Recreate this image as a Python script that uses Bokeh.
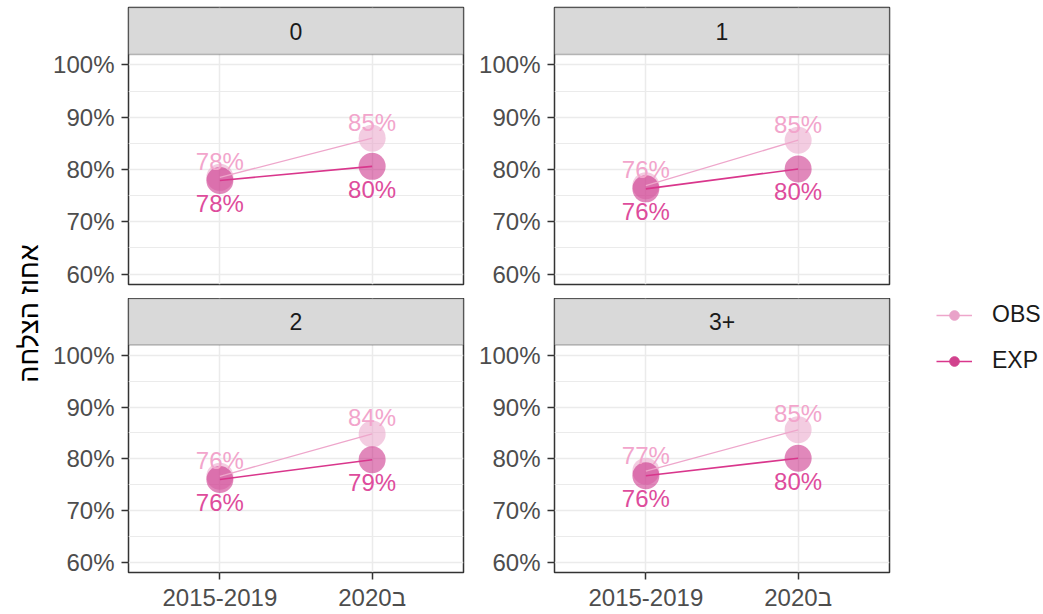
import math
from bokeh.plotting import figure
from bokeh.models import (ColumnDataSource, FactorRange, Range1d, FixedTicker,
                          NumeralTickFormatter, BoxAnnotation, Label, Legend, LegendItem)
from bokeh.layouts import row, column
from bokeh.embed import file_html
from bokeh.resources import INLINE
from bokeh.core.properties import value

# ---------------- data ----------------
periods = ["2015-2019", "2020ב"]
panels = ["0", "1", "2", "3+"]
series = ["OBS", "EXP"]

obs_2015 = [0.785, 0.769, 0.766, 0.776]
obs_2020 = [0.860, 0.856, 0.848, 0.856]
exp_2015 = [0.779, 0.763, 0.760, 0.767]
exp_2020 = [0.806, 0.801, 0.798, 0.801]

obs_2015_labels = ["78%", "76%", "76%", "77%"]
obs_2020_labels = ["85%", "85%", "84%", "85%"]
exp_2015_labels = ["78%", "76%", "76%", "76%"]
exp_2020_labels = ["80%", "80%", "79%", "80%"]

y_ticks = [0.6, 0.7, 0.8, 0.9, 1.0]
y_minor = [0.65, 0.75, 0.85, 0.95]
y_title = "אחוז הצלחה"

# ---------------- style ----------------
FONT = "Liberation Sans"
OBS_COL = "#e9a3c9"
EXP_COL = "#c51b7d"
OBS_LINE = "#eea6cb"
EXP_LINE = "#d9368c"
OBS_TEXT = "#f2a5cc"
EXP_TEXT = "#de4c9c"
GRID = "#ebebeb"
DARK = "#333333"

Y0, Y1 = 0.58, 1.02
PANEL_PX, STRIP_PX = 230, 47
FRAME_H = PANEL_PX + STRIP_PX
Y_TOP = Y1 + (Y1 - Y0) * STRIP_PX / PANEL_PX
FRAME_W = 335
TOP_PAD = 7
ROW_GAP = 14
X_AXIS_PX = 38
TOTAL_H = TOP_PAD + FRAME_H + ROW_GAP + FRAME_H + X_AXIS_PX


def make_panel(i, show_x, border_left, border_right):
    border_top = 0 if show_x else TOP_PAD
    border_bottom = X_AXIS_PX if show_x else ROW_GAP
    p = figure(
        width=border_left + FRAME_W + border_right,
        height=border_top + FRAME_H + border_bottom,
        x_range=FactorRange(factors=periods, range_padding=0.1, range_padding_units="percent"),
        y_range=Range1d(Y0, Y_TOP),
        toolbar_location=None, output_backend="svg",
        min_border_left=border_left, min_border_right=border_right,
        min_border_top=border_top, min_border_bottom=border_bottom,
        x_axis_location="below" if show_x else None,
    )
    p.background_fill_color = "white"
    p.outline_line_color = DARK
    p.outline_line_width = 1.5

    p.xgrid.grid_line_color = GRID
    p.xgrid.grid_line_width = 1.5
    p.ygrid.grid_line_color = GRID
    p.ygrid.grid_line_width = 1.5
    p.ygrid.minor_grid_line_color = GRID
    p.ygrid.minor_grid_line_width = 1.2

    p.yaxis.ticker = FixedTicker(ticks=y_ticks, minor_ticks=y_minor)
    p.yaxis.formatter = NumeralTickFormatter(format="0%")
    for ax in p.axis:
        ax.axis_line_color = None
        ax.major_tick_line_color = DARK
        ax.major_tick_line_width = 1.5
        ax.major_tick_in = 0
        ax.major_tick_out = 7
        ax.minor_tick_line_color = None
        ax.major_label_text_font = FONT
        ax.major_label_text_font_size = "24px"
        ax.major_label_text_color = "#4d4d4d"
    p.yaxis.major_label_standoff = 7
    if show_x:
        p.xaxis.major_label_standoff = 4
        p.xaxis.major_label_overrides = {periods[1]: "\u200f" + periods[1]}

    # strip header
    p.add_layout(BoxAnnotation(bottom=Y1, fill_color="#d9d9d9", fill_alpha=1.0,
                               line_color=DARK, line_width=1.5))
    p.add_layout(Label(x=1.0, y=(Y1 + Y_TOP) / 2, text=panels[i], text_align="center",
                       text_baseline="middle", text_font=FONT, text_font_size="23px",
                       text_color="#1a1a1a"))

    obs_src = ColumnDataSource(data=dict(x=periods, y=[obs_2015[i], obs_2020[i]],
                                         lab=[obs_2015_labels[i], obs_2020_labels[i]]))
    exp_src = ColumnDataSource(data=dict(x=periods, y=[exp_2015[i], exp_2020[i]],
                                         lab=[exp_2015_labels[i], exp_2020_labels[i]]))

    p.scatter("x", "y", source=obs_src, size=27, fill_color=OBS_COL, fill_alpha=0.55,
              line_color=None)
    p.scatter("x", "y", source=exp_src, size=27, fill_color=EXP_COL, fill_alpha=0.52,
              line_color=None)
    p.line("x", "y", source=obs_src, line_color=OBS_LINE, line_width=1.3)
    p.line("x", "y", source=exp_src, line_color=EXP_LINE, line_width=1.6)
    p.text("x", "y", text="lab", source=obs_src, text_font=value(FONT), text_font_size="24px",
           text_align="center", text_baseline="middle", y_offset=-16, text_color=OBS_TEXT)
    p.text("x", "y", text="lab", source=exp_src, text_font=value(FONT), text_font_size="24px",
           text_align="center", text_baseline="middle", y_offset=23, text_color=EXP_TEXT)
    return p


f0 = make_panel(0, False, 80, 6)
f1 = make_panel(1, False, 85, 2)
f2 = make_panel(2, True, 80, 6)
f3 = make_panel(3, True, 85, 2)

# y-axis title
ylab = figure(width=48, height=TOTAL_H, x_range=Range1d(0, 1), y_range=Range1d(0, 1),
              toolbar_location=None, output_backend="svg", min_border=0,
              x_axis_location=None, y_axis_location=None)
ylab.outline_line_color = None
ylab.grid.visible = False
ylab.add_layout(Label(x=0.6, y=1 - 313 / TOTAL_H, text=y_title, angle=math.pi / 2,
                      text_align="center", text_baseline="middle", text_font=FONT,
                      text_font_size="27px", text_color="#000000"))

# legend panel
leg = figure(width=150, height=TOTAL_H, x_range=Range1d(0, 1), y_range=Range1d(0, 1),
             toolbar_location=None, output_backend="svg", min_border=0,
             x_axis_location=None, y_axis_location=None)
leg.outline_line_color = None
leg.grid.visible = False
items = []
for name, lc, pc in [(series[0], OBS_LINE, OBS_COL), (series[1], EXP_LINE, "#d1428d")]:
    src = ColumnDataSource(data=dict(x=[float("nan")], y=[float("nan")]))
    lr = leg.line("x", "y", source=src, line_color=lc, line_width=1.5)
    sr = leg.scatter("x", "y", source=src, fill_color=pc, line_color=pc)
    items.append(LegendItem(label=name, renderers=[lr, sr]))
legend = Legend(items=items, location=(45, TOTAL_H - 374), padding=0, margin=0, spacing=19,
                glyph_width=36, glyph_height=24, label_height=24, label_standoff=20,
                label_text_font=FONT, label_text_font_size="23px", label_text_color="#1a1a1a",
                border_line_color=None, background_fill_alpha=0)
leg.add_layout(legend)

layout = row(ylab, column(row(f0, f1), row(f2, f3)), leg)

open("out.html", "w").write(file_html(layout, INLINE))
